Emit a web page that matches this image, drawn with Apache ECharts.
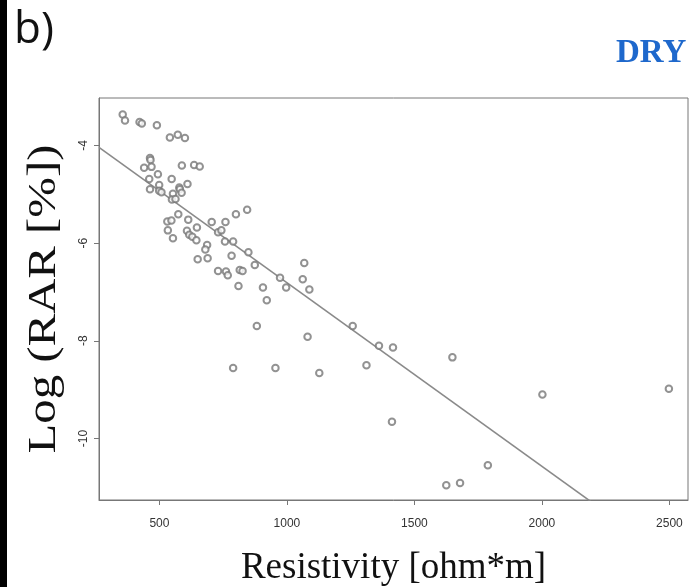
<!DOCTYPE html>
<html>
<head>
<meta charset="utf-8">
<script src="https://cdn.jsdelivr.net/npm/echarts@6/dist/echarts.min.js"></script>
<style>
html,body{margin:0;padding:0;background:#fff;}
#chart{width:690px;height:587px;}
</style>
</head>
<body>
<div id="chart"></div>
<script>
// Resistivity [ohm*m]
const resistivity = [356,365,422,431,490,541,572,600,463,465,440,469,588,636,658,494,460,548,499,610,
  578,580,463,499,508,553,587,549,563,574,613,531,547,647,705,759,533,553,608,617,
  629,645,687,680,650,689,730,743,757,789,800,844,849,783,874,730,761,768,815,826,
  810,906,973,997,1068,1062,1088,921,882,1081,1258,1361,1416,1312,789,955,1127,1649,1412,1788,
  1625,1679,2002,2498];
// Log (RAR [%])
const logRAR = [-3.37,-3.49,-3.52,-3.55,-3.59,-3.84,-3.78,-3.85,-4.26,-4.30,-4.46,-4.44,-4.41,-4.40,-4.43,-4.59,-4.69,-4.69,-4.81,-4.79,
  -4.86,-4.90,-4.90,-4.93,-4.96,-4.99,-4.97,-5.11,-5.10,-5.41,-5.52,-5.56,-5.54,-5.68,-5.57,-5.57,-5.74,-5.90,-5.75,-5.83,
  -5.87,-5.94,-6.04,-6.13,-6.33,-6.31,-5.78,-5.74,-5.97,-5.97,-5.41,-5.32,-6.19,-6.26,-6.45,-6.57,-6.58,-6.66,-6.55,-6.57,
  -6.88,-6.91,-6.71,-6.91,-6.41,-6.74,-6.95,-7.17,-7.70,-7.92,-7.70,-8.10,-8.14,-8.50,-8.56,-8.56,-8.66,-8.34,-9.66,-10.55,
  -10.96,-10.91,-9.10,-8.98];
// fitted regression line: logRAR = intercept + slope * resistivity
const fitIntercept = -3.05;
const fitSlope = -0.00376;
const xTicks = [500, 1000, 1500, 2000, 2500];
const yTicks = [-10, -8, -6, -4];
const xRange = [263, 2573];
const yRange = [-11.26, -3.03];
const xTitle = 'Resistivity [ohm*m]';
const yTitle = 'Log (RAR [%])';

const points = resistivity.map((x, i) => [x, logRAR[i]]);
const fitLine = xRange.map(x => [x, fitIntercept + fitSlope * x]);

const chart = echarts.init(document.getElementById('chart'), null, {renderer: 'canvas'});
chart.setOption({
  animation: false,
  backgroundColor: '#fff',
  grid: {left: 99, right: 2, top: 98, bottom: 87, outerBoundsMode: 'none', containLabel: false,
    show: true, borderColor: '#777', borderWidth: 1, backgroundColor: 'transparent'},
  graphic: [
    {type: 'rect', left: 0, top: 0, shape: {width: 7, height: 587}, style: {fill: '#000'}, z: 10},
    {type: 'text', left: 14, top: 8, style: {text: 'b)', font: '44px "Open Sans", "Noto Sans", sans-serif', fill: '#111'}},
    {type: 'text', left: 616, top: 37, style: {text: 'DRY', font: 'bold 33px "Liberation Serif", "DejaVu Serif", serif', fill: '#1e68cc'}},
    {type: 'text', x: 44, y: 299, rotation: Math.PI / 2, scaleX: 1.22, scaleY: 1,
      style: {text: yTitle, font: '40px "Liberation Serif", serif', fill: '#111', align: 'center', verticalAlign: 'middle',
        textAlign: 'center', textVerticalAlign: 'middle'}}
  ],
  xAxis: {
    type: 'value', min: xRange[0], max: xRange[1],
    name: xTitle, nameLocation: 'middle', nameGap: 50,
    nameTextStyle: {fontFamily: '"Liberation Serif", serif', fontSize: 37, color: '#111'},
    axisLine: {show: true, lineStyle: {color: '#777'}},
    axisTick: {show: true, inside: false, length: 5, lineStyle: {color: '#777'}, customValues: xTicks},
    axisLabel: {show: true, margin: 18, fontFamily: '"Liberation Sans", Arial, sans-serif', fontSize: 12, color: '#333',
      customValues: xTicks, formatter: v => String(v)},
    splitLine: {show: false}
  },
  yAxis: {
    type: 'value', min: yRange[0], max: yRange[1],
    axisLine: {show: true, lineStyle: {color: '#777'}},
    axisTick: {show: true, inside: false, length: 5, lineStyle: {color: '#777'}, customValues: yTicks},
    axisLabel: {show: true, rotate: 90, margin: 9, fontFamily: '"Liberation Sans", Arial, sans-serif', fontSize: 12, color: '#333',
      customValues: yTicks, formatter: v => String(v)},
    splitLine: {show: false}
  },
  series: [
    {
      type: 'line', data: fitLine, showSymbol: false, symbol: 'none', clip: true,
      lineStyle: {color: '#8a8a8a', width: 1.6}, z: 2, silent: true
    },
    {
      type: 'scatter', data: points, symbol: 'emptyCircle', symbolSize: 6.5, clip: true,
      itemStyle: {color: '#777', borderColor: '#777', borderWidth: 1}, z: 3
    }
  ]
});
</script>
</body>
</html>
